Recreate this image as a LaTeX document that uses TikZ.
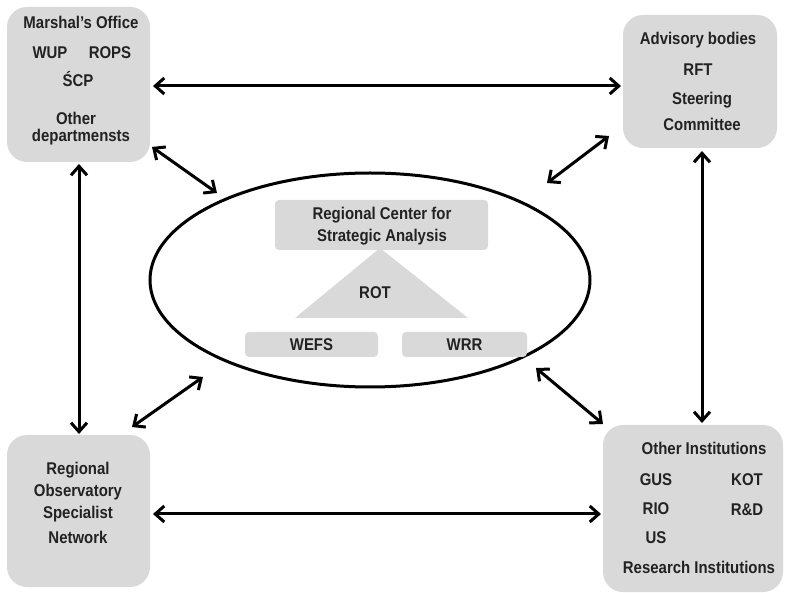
\documentclass[tikz,border=0pt]{standalone}
\usepackage{fontspec}
\setmainfont[FakeStretch=0.88]{Liberation Sans}
\usetikzlibrary{arrows.meta,shapes.geometric}
\definecolor{boxgray}{HTML}{D9D9D9}
\definecolor{txt}{HTML}{222222}
\begin{document}
\begin{tikzpicture}[x=1pt,y=-1pt,
  bigbox/.style={draw=none,fill=boxgray,rounded corners=20pt,inner sep=0pt},
  smallbox/.style={draw=none,fill=boxgray,rounded corners=4pt,inner sep=0pt},
  lbl/.style={text=txt,font=\fontsize{17}{19}\selectfont\bfseries,inner sep=0pt,align=center},
  conn/.style={line width=3pt,{Straight Barb[length=9pt,width=16pt]}-{Straight Barb[length=9pt,width=16pt]}}
]
\useasboundingbox (0,0) rectangle (785,593);
% big boxes
\node[bigbox,minimum width=143pt,minimum height=155pt] (tl) at (78.5,84.5) {};
\node[bigbox,minimum width=154pt,minimum height=133pt] (tr) at (700,81.5) {};
\node[bigbox,minimum width=143pt,minimum height=152pt] (bl) at (78.5,511) {};
\node[bigbox,minimum width=180pt,minimum height=167pt] (br) at (693,508.5) {};
% ellipse
\node[draw,line width=3pt,ellipse,minimum width=440pt,minimum height=214pt,inner sep=0pt] (ell) at (370,280) {};
% inner shapes
\node[smallbox,minimum width=213pt,minimum height=50pt] (rcsa) at (381.5,225) {};
\fill[boxgray] (380,248) -- (468,318) -- (295,318) -- cycle;
\node[smallbox,minimum width=133pt,minimum height=25pt] (wefs) at (311.5,344.5) {};
\node[smallbox,minimum width=125pt,minimum height=25pt] (wrr) at (464.5,344.5) {};
% texts top-left
\node[lbl] (t1) at (81,22) {Marshal’s Office};
\node[lbl] (t2) at (50,53) {WUP};
\node[lbl] (t3) at (110,53) {ROPS};
\node[lbl] (t4) at (78,79) {ŚCP};
\node[lbl] (t5) at (76,118) {Other};
\node[lbl] (t6) at (81,137) {departmensts};
% texts top-right
\node[lbl] (t7) at (698,40) {Advisory bodies};
\node[lbl] (t8) at (698,70) {RFT};
\node[lbl] (t9) at (702,100) {Steering};
\node[lbl] (t10) at (702,124) {Committee};
% texts bottom-left
\node[lbl] (t11) at (78,470) {Regional};
\node[lbl] (t12) at (78,492) {Observatory};
\node[lbl] (t13) at (78,514) {Specialist};
\node[lbl] (t14) at (78,537) {Network};
% texts bottom-right
\node[lbl] (t15) at (704,448) {Other Institutions};
\node[lbl] (t16) at (656,480) {GUS};
\node[lbl] (t17) at (747,480) {KOT};
\node[lbl] (t18) at (656,509) {RIO};
\node[lbl] (t19) at (747,510) {R\&D};
\node[lbl] (t20) at (656,538) {US};
\node[lbl] (t21) at (699,567) {Research Institutions};
% center texts
\node[lbl] (t22) at (382,215) {Regional Center for};
\node[lbl] (t23) at (382,237) {Strategic Analysis};
\node[lbl] (t24) at (375,293) {ROT};
\node[lbl] (t25) at (wefs) {WEFS};
\node[lbl] (t26) at (wrr) {WRR};
% connector ends
\coordinate (a1) at (153,86); \coordinate (a2) at (621,86);
\coordinate (b1) at (153,514); \coordinate (b2) at (601,514);
\coordinate (c1) at (79,164); \coordinate (c2) at (79,434);
\coordinate (d1) at (702,151); \coordinate (d2) at (702,423);
\coordinate (e1) at (152,147); \coordinate (e2) at (217,193);
\coordinate (f1) at (547,183); \coordinate (f2) at (609,136);
\coordinate (g1) at (132,427); \coordinate (g2) at (203,377);
\coordinate (h1) at (536,368); \coordinate (h2) at (603,424);
\draw[conn] (a1) -- (a2);
\draw[conn] (b1) -- (b2);
\draw[conn] (c1) -- (c2);
\draw[conn] (d1) -- (d2);
\draw[conn] (e1) -- (e2);
\draw[conn] (f1) -- (f2);
\draw[conn] (g1) -- (g2);
\draw[conn] (h1) -- (h2);
\end{tikzpicture}
\end{document}
